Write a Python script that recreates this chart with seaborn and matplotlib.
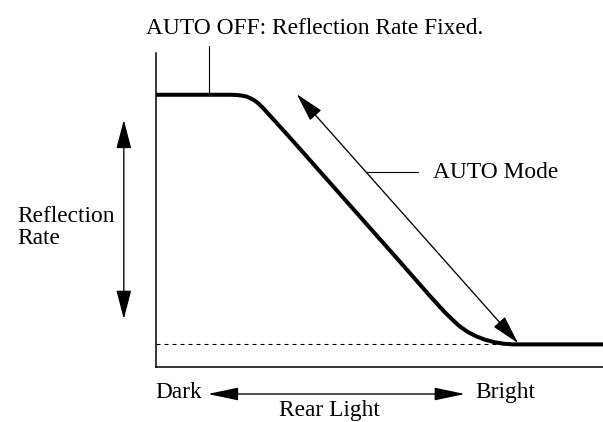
import matplotlib
matplotlib.use("Agg")
import matplotlib.pyplot as plt
import seaborn as sns
import pandas as pd

# Data: rear-light brightness (0-100) vs reflection rate (0-100)
rear_light = [0, 16.8, 18.3, 19.4, 20.3, 21.1, 21.9, 22.6, 23.3, 24.0, 30.0,
              38.9, 53.9, 61.3, 64.5, 66.3, 67.9, 69.7, 71.6, 73.6, 75.7,
              77.8, 80.0, 100]
reflection = [86.7, 86.7, 86.6, 86.4, 86.1, 85.6, 85.0, 84.3, 83.4, 82.4, 73.0,
              58.7, 34.6, 22.6, 17.6, 15.1, 13.0, 11.2, 9.8, 8.7, 7.9,
              7.4, 7.2, 7.2]
floor_x = [0, 100]
floor_y = [7.4, 7.4]

labels = {
    "fixed": "AUTO OFF: Reflection Rate Fixed.",
    "auto": "AUTO Mode",
    "ylabel1": "Reflection",
    "ylabel2": "Rate",
    "dark": "Dark",
    "bright": "Bright",
    "xlabel": "Rear Light",
}

sns.set_style("white")
plt.rcParams["font.family"] = ["Liberation Serif", "DejaVu Serif"]
FS = 16.8

fig = plt.figure(figsize=(6.03, 4.22), dpi=100)
ax = fig.add_axes([156 / 603, 55 / 422, 447 / 603, 314 / 422])

curve = pd.DataFrame({"x": rear_light, "y": reflection})
floor = pd.DataFrame({"x": floor_x, "y": floor_y})

sns.lineplot(data=floor, x="x", y="y", ax=ax, color="black", lw=0.8,
             linestyle=(0, (3.6, 3.6)), zorder=1)
sns.lineplot(data=curve, x="x", y="y", ax=ax, color="black", lw=2.9,
             solid_joinstyle="round", solid_capstyle="butt", zorder=3)

ax.set_xlim(0, 100)
ax.set_ylim(0, 100)
ax.set_xticks([])
ax.set_yticks([])
ax.set_xlabel("")
ax.set_ylabel("")
for s in ["top", "right"]:
    ax.spines[s].set_visible(False)
for s in ["left", "bottom"]:
    ax.spines[s].set_color("black")
    ax.spines[s].set_linewidth(1.1)

def darrow(p0, p1, hl, hw, lw=0.95):
    ax.annotate("", xy=p1, xytext=p0, xycoords="data", textcoords="data",
                annotation_clip=False,
                arrowprops=dict(arrowstyle=f"<|-|>,head_length={hl},head_width={hw}",
                                color="black", lw=lw, shrinkA=0, shrinkB=0,
                                mutation_scale=1))

# AUTO mode double arrow
darrow((31.5, 86.9), (81.0, 7.6), 18, 4.7)
# reflection rate double arrow
darrow((-7.2, 78.7), (-7.2, 15.3), 18, 4.7)
# rear light double arrow
darrow((11.6, -8.6), (69.1, -8.6), 19, 4.0)

# leaders
ax.plot([11.9, 11.9], [102.2, 86.7], color="black", lw=0.8, clip_on=False)
ax.plot([47.2, 58.6], [62.1, 62.1], color="black", lw=0.8, clip_on=False)

tk = dict(fontsize=FS, color="black", va="baseline", clip_on=False)
ax.text(-2.2, 106.1, labels["fixed"], ha="left", **tk)
ax.text(62.0, 60.2, labels["auto"], ha="left", **tk)
ax.text(-31.1, 46.2, labels["ylabel1"], ha="left", **tk)
ax.text(-31.1, 39.2, labels["ylabel2"], ha="left", **tk)
ax.text(-0.2, -9.9, labels["dark"], ha="left", **tk)
ax.text(71.4, -9.9, labels["bright"], ha="left", **tk)
ax.text(38.9, -15.5, labels["xlabel"], ha="center", **tk)

fig.savefig("out.png", dpi=100)
